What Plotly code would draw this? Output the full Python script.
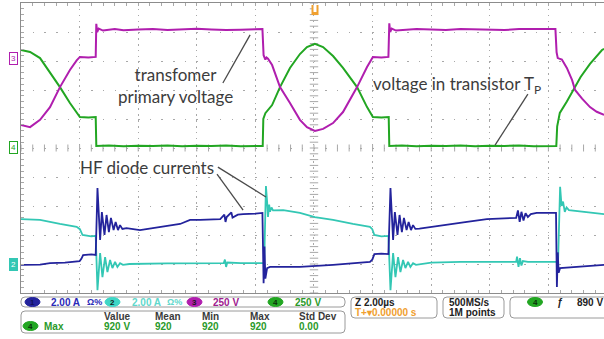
import numpy as np
import plotly.graph_objects as go

# ---------------- data (time in µs, amplitude in screen divisions) ----------------
ch3_primary = [(-10.00, 0.79), (-9.69, 0.72), (-9.35, 0.97), (-9.01, 1.41), (-8.67, 2.10), (-8.33, 2.69),
               (-8.10, 3.02), (-7.99, 3.14), (-7.70, 3.12), (-7.45, 3.14), (-7.43, 4.28), (-7.40, 4.00),
               (-7.35, 4.12), (-7.20, 4.05), (-6.80, 4.10), (-6.50, 4.06), (-6.00, 4.09), (-5.50, 4.10),
               (-5.00, 4.07), (-4.50, 4.08), (-4.00, 4.11), (-3.50, 4.09), (-3.00, 4.07), (-2.50, 4.08),
               (-2.00, 4.10), (-1.76, 4.10), (-1.72, 3.20), (-1.66, 3.05), (-1.62, 3.12), (-1.57, 3.08),
               (-1.43, 2.86), (-1.16, 2.10), (-0.82, 1.55), (-0.48, 0.97), (-0.24, 0.72), (0.03, 0.59),
               (0.31, 0.66), (0.65, 0.86), (0.99, 1.24), (1.47, 2.10), (1.81, 2.79), (2.01, 3.14),
               (2.30, 3.12), (2.54, 3.14), (2.57, 4.30), (2.60, 4.00), (2.65, 4.12), (2.80, 4.05),
               (3.50, 4.10), (4.00, 4.08), (4.50, 4.07), (5.00, 4.10), (5.50, 4.09), (6.00, 4.08),
               (6.50, 4.07), (7.00, 4.10), (7.50, 4.09), (8.00, 4.08), (8.24, 4.10), (8.28, 3.30),
               (8.32, 3.10), (8.46, 3.05), (8.63, 2.76), (8.81, 2.34), (8.91, 2.00), (9.15, 1.70),
               (9.42, 1.41), (9.65, 1.25), (9.90, 1.14)]

ch4_transistor = [(-10.00, 3.38), (-9.69, 3.31), (-9.35, 3.10), (-9.01, 2.62), (-8.67, 2.10), (-8.33, 1.55),
                  (-8.10, 1.20), (-7.99, 1.07), (-7.70, 1.05), (-7.45, 1.07), (-7.43, 0.07), (-7.00, 0.09),
                  (-6.50, 0.06), (-6.00, 0.08), (-5.50, 0.07), (-5.00, 0.09), (-4.50, 0.06), (-4.00, 0.08),
                  (-3.50, 0.07), (-3.00, 0.09), (-2.50, 0.06), (-2.00, 0.08), (-1.75, 0.07), (-1.73, 1.00),
                  (-1.66, 1.20), (-1.43, 1.48), (-1.16, 2.10), (-0.82, 2.76), (-0.48, 3.24), (-0.24, 3.48),
                  (0.03, 3.59), (0.31, 3.48), (0.65, 3.17), (0.99, 2.76), (1.47, 2.10), (1.81, 1.41),
                  (2.01, 1.07), (2.30, 1.05), (2.55, 1.07), (2.57, 0.07), (3.00, 0.09), (3.50, 0.06),
                  (4.00, 0.08), (4.50, 0.07), (5.00, 0.09), (5.50, 0.06), (6.00, 0.08), (6.50, 0.07),
                  (7.00, 0.09), (7.50, 0.06), (8.00, 0.08), (8.27, 0.07), (8.30, 0.75), (8.39, 1.21),
                  (8.63, 1.60), (8.91, 2.10), (9.10, 2.45), (9.42, 2.90), (9.83, 3.38), (9.90, 3.42)]

ch1_diode = [(-10.00, -4.03), (-9.35, -4.02), (-9.01, -3.97), (-8.50, -3.95), (-8.00, -3.90), (-7.94, -3.82),
             (-7.88, -3.69), (-7.60, -3.67), (-7.45, -3.69), (-7.39, -1.38), (-7.30, -3.17), (-7.24, -2.21),
             (-7.15, -3.00), (-7.08, -2.31), (-7.00, -2.90), (-6.93, -2.41), (-6.84, -2.83), (-6.77, -2.55),
             (-6.69, -2.83), (-6.62, -2.66), (-6.54, -2.79), (-6.40, -2.76), (-5.94, -2.83), (-5.26, -2.72),
             (-4.57, -2.62), (-4.23, -2.48), (-3.89, -2.48), (-3.20, -2.45), (-3.06, -2.30), (-3.02, -2.55),
             (-2.98, -2.38), (-2.82, -2.22), (-2.78, -2.40), (-2.60, -2.30), (-2.42, -2.28), (-2.00, -2.26),
             (-1.76, -2.24), (-1.72, -4.66), (-1.69, -3.40), (-1.66, -4.50), (-1.60, -4.14), (-1.50, -4.10),
             (-0.48, -4.10), (0.65, -4.03), (1.91, -3.93), (1.99, -3.85), (2.06, -3.66), (2.30, -3.64),
             (2.54, -3.66), (2.61, -1.38), (2.70, -3.17), (2.76, -2.21), (2.85, -3.00), (2.92, -2.31),
             (3.00, -2.90), (3.07, -2.41), (3.16, -2.83), (3.23, -2.55), (3.31, -2.83), (3.38, -2.66),
             (3.46, -2.79), (3.60, -2.78), (4.06, -2.72), (5.22, -2.55), (5.90, -2.45), (6.79, -2.41),
             (6.90, -2.41), (6.96, -2.15), (7.02, -2.55), (7.08, -2.20), (7.15, -2.50), (7.22, -2.25),
             (7.30, -2.38), (7.40, -2.28), (7.60, -2.24), (8.26, -2.24), (8.29, -4.79), (8.32, -3.60),
             (8.35, -4.30), (8.40, -4.14), (9.00, -4.10), (9.90, -4.03)]

ch2_diode = [(-10.00, -2.45), (-9.35, -2.48), (-8.67, -2.62), (-8.10, -2.72), (-7.99, -2.80), (-7.90, -3.00),
             (-7.60, -3.05), (-7.45, -3.03), (-7.39, -4.90), (-7.30, -3.62), (-7.22, -4.45), (-7.13, -3.76),
             (-7.05, -4.28), (-6.96, -3.86), (-6.88, -4.14), (-6.79, -3.93), (-6.71, -4.10), (-6.62, -3.97),
             (-6.52, -4.03), (-6.30, -4.00), (-5.00, -3.98), (-3.89, -3.97), (-3.08, -3.97), (-3.04, -3.85),
             (-3.00, -4.10), (-2.96, -3.95), (-2.50, -3.97), (-1.70, -3.97), (-1.64, -1.31), (-1.60, -1.86),
             (-1.57, -2.38), (-1.53, -1.95), (-1.50, -2.20), (-1.45, -2.05), (-1.40, -2.15), (-1.05, -2.14),
             (-0.48, -2.24), (0.03, -2.38), (0.65, -2.48), (1.33, -2.62), (1.91, -2.72), (1.99, -2.80),
             (2.06, -3.00), (2.30, -3.05), (2.54, -3.03), (2.61, -4.90), (2.70, -3.62), (2.78, -4.45),
             (2.87, -3.76), (2.95, -4.28), (3.04, -3.86), (3.12, -4.14), (3.21, -3.93), (3.29, -4.10),
             (3.38, -3.97), (3.48, -4.03), (4.00, -3.95), (5.00, -3.93), (6.90, -3.93), (6.93, -3.75),
             (6.98, -4.10), (7.03, -3.80), (7.08, -4.05), (7.13, -3.90), (7.30, -3.93), (8.33, -3.93),
             (8.40, -1.34), (8.45, -2.00), (8.50, -1.85), (8.56, -2.20), (8.62, -2.05), (8.70, -2.14),
             (9.30, -2.20), (9.90, -2.28)]

# channel settings
ch_names = ["1", "2", "3", "4"]
ch_scales = ["2.00 A", "2.00 A", "250 V", "250 V"]
ch_ground = [-4.03, -4.00, 3.07, 0.03]          # marker positions (divisions)
ch_colors = ["#23239c", "#33c7b4", "#b01eae", "#22a622"]
ch_label_colors = ["#2a2ab8", "#5fd8cc", "#a0208f", "#2a9a2a"]

# measurement table
meas_headers = ["Value", "Mean", "Min", "Max", "Std Dev"]
meas_values = ["920 V", "920", "920", "920", "0.00"]

timebase = "2.00µs"
trig_pos = "0.00000 s"
sample_rate = "500MS/s"
record_len = "1M points"
trig_level = "890 V"

# ---------------- figure ----------------
fig = go.Figure()
GRID = "#a8a8a8"

# tick marks along centre cross
xt = np.arange(-10, 10.001, 0.4)
yt = np.arange(-5, 5.001, 0.2)
fig.add_trace(go.Scatter(x=xt, y=np.zeros_like(xt), mode="markers", hoverinfo="skip",
                         marker=dict(symbol="line-ns", size=5, line=dict(color=GRID, width=1))))
fig.add_trace(go.Scatter(x=np.zeros_like(yt), y=yt, mode="markers", hoverinfo="skip",
                         marker=dict(symbol="line-ew", size=6, line=dict(color=GRID, width=1))))

for pts, col, w in [(ch4_transistor, ch_colors[3], 2), (ch3_primary, ch_colors[2], 2),
                    (ch2_diode, ch_colors[1], 1.8), (ch1_diode, ch_colors[0], 1.8)]:
    t, v = zip(*pts)
    fig.add_trace(go.Scatter(x=t, y=v, mode="lines", hoverinfo="skip",
                             line=dict(color=col, width=w)))

fig.update_layout(
    width=604, height=339, margin=dict(l=21, r=0, t=3, b=46),
    paper_bgcolor="white", plot_bgcolor="white", showlegend=False,
    xaxis=dict(range=[-10, 9.898], tick0=-10, dtick=2, showgrid=True, gridcolor=GRID,
               griddash="1.5px,4.36px", gridwidth=1, showline=True, linecolor="#8c8c8c",
               linewidth=1, mirror="allticks", ticks="inside", ticklen=3, tickcolor=GRID,
               minor=dict(dtick=0.4, ticks="inside", ticklen=3, tickcolor=GRID, showgrid=False),
               showticklabels=False, zeroline=False),
    yaxis=dict(range=[-5, 5], tick0=-5, dtick=1, showgrid=True, gridcolor=GRID,
               griddash="1.5px,10.2px", gridwidth=1, showline=True, linecolor="#8c8c8c",
               linewidth=1, mirror=False, ticks="inside", ticklen=3, tickcolor=GRID,
               minor=dict(dtick=0.2, ticks="inside", ticklen=3, tickcolor=GRID, showgrid=False),
               showticklabels=False, zeroline=False),
)

# ---------------- helpers (pixel -> paper) ----------------
def px(x):
    return (x - 21) / 583.0

def py(y):
    return (293 - y) / 290.0

def label(x, y, text, color, size=10, anchor="left", family="Liberation Sans"):
    fig.add_annotation(xref="paper", yref="paper", x=px(x), y=py(y), text=text, showarrow=False,
                       xanchor=anchor, yanchor="middle",
                       font=dict(family=family, size=size, color=color))

def oval(cx, cy, num, color):
    fig.add_shape(type="circle", xref="paper", yref="paper", x0=px(cx - 7.5), x1=px(cx + 7.5),
                  y0=py(cy + 4.5), y1=py(cy - 4.5), fillcolor=color, line=dict(color=color, width=1))
    label(cx, cy, "<b>%s</b>" % num, "#10105a" if num == "1" else "#0a300a" if num == "4" else "#1a1a1a",
          size=8, anchor="center")

def rrect(x0, y0, x1, y1, r=4, color="#9a9a9a"):
    p = (f"M {px(x0 + r)},{py(y0)} L {px(x1 - r)},{py(y0)} Q {px(x1)},{py(y0)} {px(x1)},{py(y0 + r)} "
         f"L {px(x1)},{py(y1 - r)} Q {px(x1)},{py(y1)} {px(x1 - r)},{py(y1)} "
         f"L {px(x0 + r)},{py(y1)} Q {px(x0)},{py(y1)} {px(x0)},{py(y1 - r)} "
         f"L {px(x0)},{py(y0 + r)} Q {px(x0)},{py(y0)} {px(x0 + r)},{py(y0)} Z")
    fig.add_shape(type="path", xref="paper", yref="paper", path=p, line=dict(color=color, width=1))

# ---------------- channel ground markers ----------------
for i, fill in [(2, False), (3, False), (1, True)]:
    fig.add_annotation(xref="paper", yref="y", x=px(13), y=ch_ground[i], text=ch_names[i],
                       showarrow=False, xanchor="center", yanchor="middle",
                       font=dict(family="Liberation Sans", size=8,
                                 color="white" if fill else ch_colors[i]),
                       bgcolor=ch_colors[i] if fill else "white", bordercolor=ch_colors[i],
                       borderwidth=1, borderpad=1)

# trigger position marker (top centre)
fig.add_shape(type="rect", xref="paper", yref="paper", x0=px(311.5), x1=px(318.5), y0=py(15), y1=py(5),
              fillcolor="#f0a030", line=dict(width=0))
fig.add_shape(type="rect", xref="paper", yref="paper", x0=px(313.5), x1=px(316.5), y0=py(12), y1=py(5),
              fillcolor="white", line=dict(width=0))

# ---------------- callouts ----------------
TXT = "#3c3c3c"
fig.add_annotation(x=-4.74, y=2.14, text="transfomer<br>primary voltage", showarrow=False,
                   font=dict(family="Lato", size=17, color=TXT), align="center")
fig.add_annotation(x=4.88, y=2.18, text="voltage in transistor T<sub>P</sub>", showarrow=False,
                   font=dict(family="Lato", size=17, color=TXT))
fig.add_annotation(x=-5.70, y=-0.66, text="HF diode currents", showarrow=False,
                   font=dict(family="Lato", size=17, color=TXT))
for (x0, y0, x1, y1) in [(-3.11, 2.24, -2.18, 3.90), (7.30, 1.86, 6.18, 0.10),
                         (-3.28, -0.66, -1.64, -1.69), (-3.31, -0.90, -2.42, -2.14)]:
    fig.add_shape(type="line", x0=x0, y0=y0, x1=x1, y1=y1, line=dict(color="#4a4a4a", width=1.3))

# ---------------- bottom readout ----------------
rrect(21, 297, 345, 307)
rrect(21, 311, 345, 333)
rrect(351, 297, 437, 318)
rrect(443, 297, 504, 318)
rrect(510, 297, 620, 318)

oval_x = [32.5, 112.5, 194.5, 275.5]
scale_x = [49, 130, 211, 293]
for i in range(4):
    oval(oval_x[i], 302, ch_names[i], ch_colors[i] if i != 1 else "#3fd6c6")
    label(scale_x[i], 302, "<b>%s</b>" % ch_scales[i], ch_label_colors[i])
label(85, 302, "<b>Ω%</b>", ch_label_colors[0], size=9)
label(165, 302, "<b>Ω%</b>", ch_label_colors[1], size=9)

oval(30.5, 326, "4", ch_colors[3])
label(42, 326, "<b>Max</b>", ch_label_colors[3])
head_x = [102, 153, 200, 248, 297]
for hx, h, v in zip(head_x, meas_headers, meas_values):
    label(hx, 316, "<b>%s</b>" % h, "#3a3a3a")
    label(hx, 326.5, "<b>%s</b>" % v, ch_label_colors[3])

label(353, 302, "<b>Z %s</b>" % timebase, "#222222")
label(353, 312, "<b>T+▾%s</b>" % trig_pos, "#f0a030")
label(447, 302, "<b>%s</b>" % sample_rate, "#222222")
label(447, 312, "<b>%s</b>" % record_len, "#222222")
oval(535, 302, "4", ch_colors[3])
label(555, 302, "<b><i>ƒ</i></b>", "#222222")
label(575, 302, "<b>%s</b>" % trig_level, "#222222")

fig.write_html("out.html")
